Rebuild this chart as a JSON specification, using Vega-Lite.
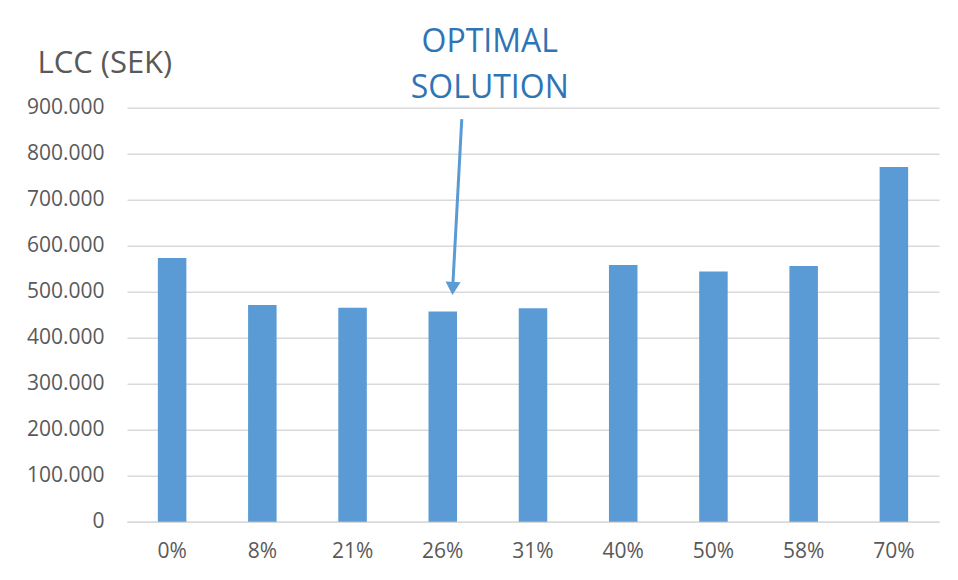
{
  "$schema": "https://vega.github.io/schema/vega-lite/v6.json",
  "autosize": "none",
  "width": 812,
  "height": 414,
  "padding": {"left": 127, "top": 107.7, "right": 19, "bottom": 58},
  "background": "white",
  "config": {
    "font": "Open Sans",
    "view": {"stroke": null}
  },
  "layer": [
    {
      "data": {
        "values": [
          {"share": "0%", "lcc": 573000},
          {"share": "8%", "lcc": 471000},
          {"share": "21%", "lcc": 465000},
          {"share": "26%", "lcc": 457000},
          {"share": "31%", "lcc": 464000},
          {"share": "40%", "lcc": 558000},
          {"share": "50%", "lcc": 544000},
          {"share": "58%", "lcc": 556000},
          {"share": "70%", "lcc": 771000}
        ]
      },
      "mark": {"type": "bar", "color": "#5B9BD5"},
      "encoding": {
        "x": {
          "field": "share",
          "type": "nominal",
          "sort": null,
          "scale": {
            "domain": ["0%", "8%", "21%", "26%", "31%", "40%", "50%", "58%", "70%"],
            "paddingInner": 0.684,
            "paddingOuter": 0.342
          },
          "axis": {
            "title": null,
            "labelAngle": 0,
            "labelFontSize": 21,
            "labelColor": "#595959",
            "labelPadding": 19,
            "ticks": false,
            "domainColor": "#d9d9d9",
            "domainWidth": 1.5
          }
        },
        "y": {
          "field": "lcc",
          "type": "quantitative",
          "scale": {"domain": [0, 900000], "nice": false},
          "axis": {
            "values": [0, 100000, 200000, 300000, 400000, 500000, 600000, 700000, 800000, 900000],
            "labelExpr": "replace(format(datum.value, ','), ',', '.')",
            "labelFontSize": 21,
            "labelColor": "#595959",
            "labelPadding": 23,
            "ticks": false,
            "domain": false,
            "gridColor": "#d9d9d9",
            "gridWidth": 1.5,
            "title": "LCC (SEK)",
            "titleAngle": 0,
            "titleAlign": "left",
            "titleBaseline": "alphabetic",
            "titleX": -90,
            "titleY": -35,
            "titleFontSize": 31,
            "titleFontWeight": "normal",
            "titleColor": "#595959"
          }
        }
      }
    },
    {
      "data": {"values": [{"share": "26%", "y1": 875000, "y2": 512000}]},
      "mark": {"type": "rule", "color": "#5B9BD5", "strokeWidth": 3, "xOffset": 19, "x2Offset": 10},
      "encoding": {
        "x": {"field": "share", "type": "nominal"},
        "x2": {"field": "share"},
        "y": {"field": "y1", "type": "quantitative"},
        "y2": {"field": "y2"}
      }
    },
    {
      "data": {"values": [{"share": "26%", "y": 507000}]},
      "mark": {
        "type": "point",
        "shape": "M-1,-0.87L1,-0.87L0,0.87Z",
        "filled": true,
        "opacity": 1,
        "color": "#5B9BD5",
        "size": 225,
        "angle": 3,
        "xOffset": 10
      },
      "encoding": {
        "x": {"field": "share", "type": "nominal"},
        "y": {"field": "y", "type": "quantitative"}
      }
    },
    {
      "data": {"values": [{"share": "26%", "y": 1042000, "label": ["OPTIMAL", "SOLUTION"]}]},
      "mark": {
        "type": "text",
        "color": "#2E75B6",
        "fontSize": 32,
        "align": "center",
        "baseline": "middle",
        "lineHeight": 46,
        "dx": 47
      },
      "encoding": {
        "x": {"field": "share", "type": "nominal"},
        "y": {"field": "y", "type": "quantitative"},
        "text": {"field": "label"}
      }
    }
  ]
}
